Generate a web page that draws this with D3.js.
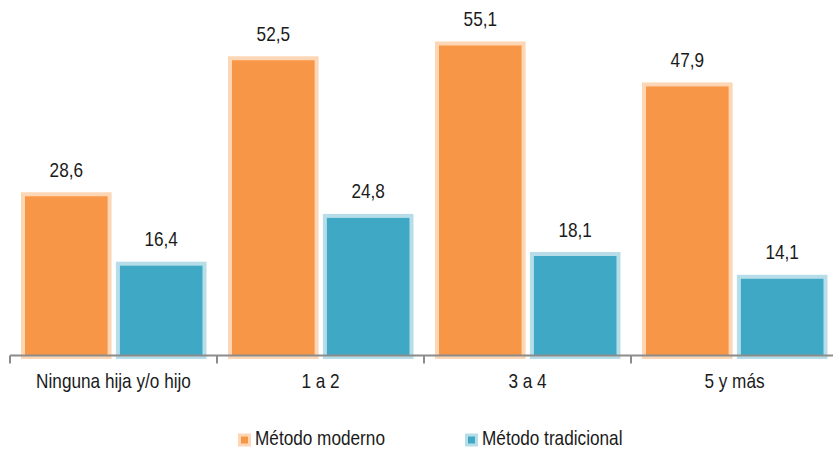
<!DOCTYPE html>
<html><head><meta charset="utf-8">
<script src="https://cdn.jsdelivr.net/npm/d3@7"></script>
<style>body{margin:0;background:#fff;}svg{display:block;font-family:"Liberation Sans",Arial,sans-serif;}</style>
</head><body><svg id="c" width="833" height="449"></svg>
<script>
const categories = ["Ninguna hija y/o hijo", "1 a 2", "3 a 4", "5 y más"];
const seriesNames = ["Método moderno", "Método tradicional"];
const moderno = [28.6, 52.5, 55.1, 47.9];
const tradicional = [16.4, 24.8, 18.1, 14.1];
const fills = ["#F79646", "#3FA9C5"];
const strokes = ["#FDD7B5", "#B7DEE8"];

const svg = d3.select("#c");
const x0 = d3.scaleBand().domain(categories).range([10, 838]).paddingInner(0).paddingOuter(0);
const x1 = d3.scaleBand().domain(seriesNames).range([11, 196.5]).paddingInner(0.045);
const y = d3.scaleLinear().domain([0, 60]).range([357, 15.6]);

const data = [moderno, tradicional];
const fmt = v => v.toFixed(1).replace(".", ",");
const SX = 0.86, FS = 20, TXT = "#1a1a1a";

function label(sel, x, yy, txt, anchor) {
  return sel.append("text")
    .attr("transform", `translate(${x},${yy}) scale(${SX},1)`)
    .attr("text-anchor", anchor || "middle").attr("font-size", FS).attr("fill", TXT)
    .text(txt);
}

categories.forEach((c, i) => {
  const g = svg.append("g").attr("transform", `translate(${x0(c)},0)`);
  seriesNames.forEach((s, j) => {
    const v = data[j][i];
    g.append("rect")
      .attr("x", x1(s) + 2).attr("width", x1.bandwidth() - 4)
      .attr("y", y(v)).attr("height", y(0) - y(v))
      .attr("fill", fills[j]).attr("stroke", strokes[j]).attr("stroke-width", 4);
    label(g, x1(s) + x1.bandwidth() / 2, y(v) - 17.5, fmt(v));
  });
});

// axis
const axisY = 355.5;
svg.append("line").attr("x1", 10).attr("x2", 833).attr("y1", axisY).attr("y2", axisY)
  .attr("stroke", "#8c8c8c").attr("stroke-width", 2);
const ticks = categories.map(c => x0(c)).concat([x0.range()[1]]);
svg.selectAll(".tk").data(ticks).enter().append("line")
  .attr("x1", d => d).attr("x2", d => d).attr("y1", axisY).attr("y2", axisY + 8)
  .attr("stroke", "#8c8c8c").attr("stroke-width", 2);
categories.forEach(c => label(svg, x0(c) + x0.bandwidth() / 2, 387.5, c));

// legend
const legX = [238, 465];
seriesNames.forEach((s, j) => {
  svg.append("rect").attr("x", legX[j] + 1.5).attr("y", 435).attr("width", 10).attr("height", 10)
    .attr("fill", fills[j]).attr("stroke", strokes[j]).attr("stroke-width", 3);
  label(svg, legX[j] + 17, 444.5, s, "start");
});
</script></body></html>
